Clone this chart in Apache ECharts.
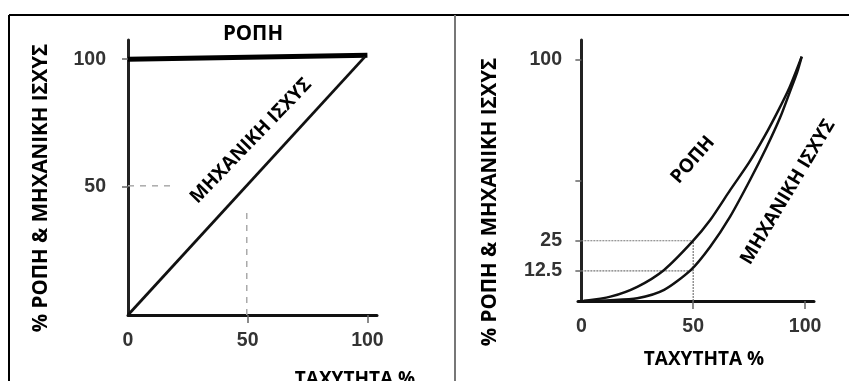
<!DOCTYPE html>
<html>
<head>
<meta charset="utf-8">
<script src="https://cdn.jsdelivr.net/npm/echarts@6/dist/echarts.min.js"></script>
<style>html,body{margin:0;padding:0;background:#fff}#c{width:849px;height:381px}</style>
</head>
<body>
<div id="c"></div>
<script>
// Left panel: constant torque
const leftTorque = [[0, 100], [100, 101.5]];
const leftPower = [[0, 0], [99, 101]];
const leftDashH = [[0, 50.5], [19, 50.5]];
const leftDashV = [[49.6, 0], [49.6, 42]];
const leftXLabels = [0, 50, 100];
const leftXTicks = [50, 100];
const leftYLabels = [50, 100];
const leftYTicks = [50, 100];

// Right panel: variable torque
const rightTorque = [[1, 0], [13, 1.8], [25, 5.9], [37, 12.9], [49.5, 24.5], [57.6, 33.6], [66.5, 46], [75, 57.5], [82, 68.5], [88, 79], [93, 88.5], [98.5, 101.4]];
const rightPower = [[1, 0], [13, 0.3], [25, 1.1], [37, 4.6], [49, 12.9], [57.6, 22.5], [66.5, 35], [75.4, 50.2], [82.9, 64], [88.8, 76], [93.3, 87], [96.5, 95], [98.5, 101.4]];
const rightGuide25 = [[0, 25], [50, 25]];
const rightGuide125 = [[0, 12.5], [50, 12.5]];
const rightGuideV = [[50, 0], [50, 25]];
const rightXLabels = [0, 50, 100];
const rightXTicks = [50, 100];
const rightYLabels = [12.5, 25, 100];
const rightYTicks = [12.5, 25, 50, 100];

const yTitle = '% ΡΟΠΗ & ΜΗΧΑΝΙΚΗ ΙΣΧΥΣ';
const xTitle = 'ΤΑΧΥΤΗΤΑ %';
const torqueName = 'ΡΟΠΗ';
const powerName = 'ΜΗΧΑΝΙΚΗ ΙΣΧΥΣ';

const greekFont = {fontFamily: 'Open Sans', fontWeight: 'bold', fontSize: 19, fill: '#000'};
const titleFont = {fontFamily: 'Open Sans', fontWeight: 'bold', fontSize: 20.5, fill: '#000'};
const tickLabel = {color: '#333', fontFamily: 'Liberation Sans', fontWeight: 'bold', fontSize: 19.5};

function xAxis(gi, min, max, labels, ticks) {
  return {
    type: 'value', gridIndex: gi, min: min, max: max, splitLine: {show: false},
    axisLine: {show: true, lineStyle: {color: '#111', width: 3}},
    axisTick: {show: true, length: 8, customValues: ticks, lineStyle: {color: '#666', width: 1.5}},
    axisLabel: Object.assign({customValues: labels, margin: 16}, tickLabel)
  };
}
function yAxis(gi, min, max, labels, ticks, margin) {
  return {
    type: 'value', gridIndex: gi, min: min, max: max, splitLine: {show: false},
    axisLine: {show: true, lineStyle: {color: '#222', width: 3}},
    axisTick: {show: true, length: 6, customValues: ticks, lineStyle: {color: '#666', width: 1.5}},
    axisLabel: Object.assign({customValues: labels, margin: margin}, tickLabel)
  };
}
function line(xi, data, width, color, type, smooth) {
  return {
    type: 'line', xAxisIndex: xi, yAxisIndex: xi, data: data, symbol: 'none',
    smooth: smooth || false,
    lineStyle: {color: color, width: width, type: type || 'solid'}, z: type ? 1 : 3, silent: true
  };
}

const chart = echarts.init(document.getElementById('c'), null, {renderer: 'canvas'});
chart.setOption({
  backgroundColor: '#fff',
  animation: false,
  grid: [
    {left: 128, top: 40, width: 249, height: 275},
    {left: 578, top: 40, width: 236, height: 261}
  ],
  xAxis: [xAxis(0, 0, 104, leftXLabels, leftXTicks), xAxis(1, -1.5, 104, rightXLabels, rightXTicks)],
  yAxis: [yAxis(0, 0, 107.5, leftYLabels, leftYTicks, 22), yAxis(1, 0, 108.3, rightYLabels, rightYTicks, 16)],
  series: [
    line(0, leftDashH, 1.5, '#aaa', [6, 6]),
    line(0, leftDashV, 1.5, '#aaa', [6, 6]),
    line(0, leftTorque, 5, '#000'),
    line(0, leftPower, 2.8, '#111'),
    line(1, rightGuide25, 1.2, '#777', [2, 1]),
    line(1, rightGuide125, 1.2, '#777', [2, 1]),
    line(1, rightGuideV, 1.2, '#777', [2, 1]),
    line(1, rightTorque, 2.5, '#111', null, 0.25),
    line(1, rightPower, 2.5, '#111', null, 0.25)
  ],
  graphic: [
    {type: 'line', shape: {x1: 9, y1: 15, x2: 849, y2: 15}, style: {stroke: '#000', lineWidth: 2}},
    {type: 'line', shape: {x1: 9, y1: 15, x2: 9, y2: 381}, style: {stroke: '#000', lineWidth: 2}},
    {type: 'line', shape: {x1: 455, y1: 15, x2: 455, y2: 381}, style: {stroke: '#777', lineWidth: 2}},
    {type: 'text', x: 253, y: 34, style: Object.assign({text: torqueName, align: 'center', verticalAlign: 'middle'}, titleFont)},
    {type: 'text', x: 251, y: 141, rotation: 46 * Math.PI / 180, style: Object.assign({text: powerName, align: 'center', verticalAlign: 'middle'}, greekFont)},
    {type: 'text', x: 693, y: 160, rotation: 49 * Math.PI / 180, style: Object.assign({text: torqueName, align: 'center', verticalAlign: 'middle'}, greekFont)},
    {type: 'text', x: 788, y: 192, rotation: 59 * Math.PI / 180, style: Object.assign({text: powerName, align: 'center', verticalAlign: 'middle'}, greekFont)},
    {type: 'text', x: 41, y: 188, rotation: Math.PI / 2, style: Object.assign({text: yTitle, align: 'center', verticalAlign: 'middle'}, titleFont)},
    {type: 'text', x: 490, y: 202, rotation: Math.PI / 2, style: Object.assign({text: yTitle, align: 'center', verticalAlign: 'middle'}, titleFont)},
    {type: 'text', x: 355, y: 380, style: Object.assign({text: xTitle, align: 'center', verticalAlign: 'middle'}, greekFont)},
    {type: 'text', x: 704, y: 360, style: Object.assign({text: xTitle, align: 'center', verticalAlign: 'middle'}, greekFont)}
  ]
});
</script>
</body>
</html>
